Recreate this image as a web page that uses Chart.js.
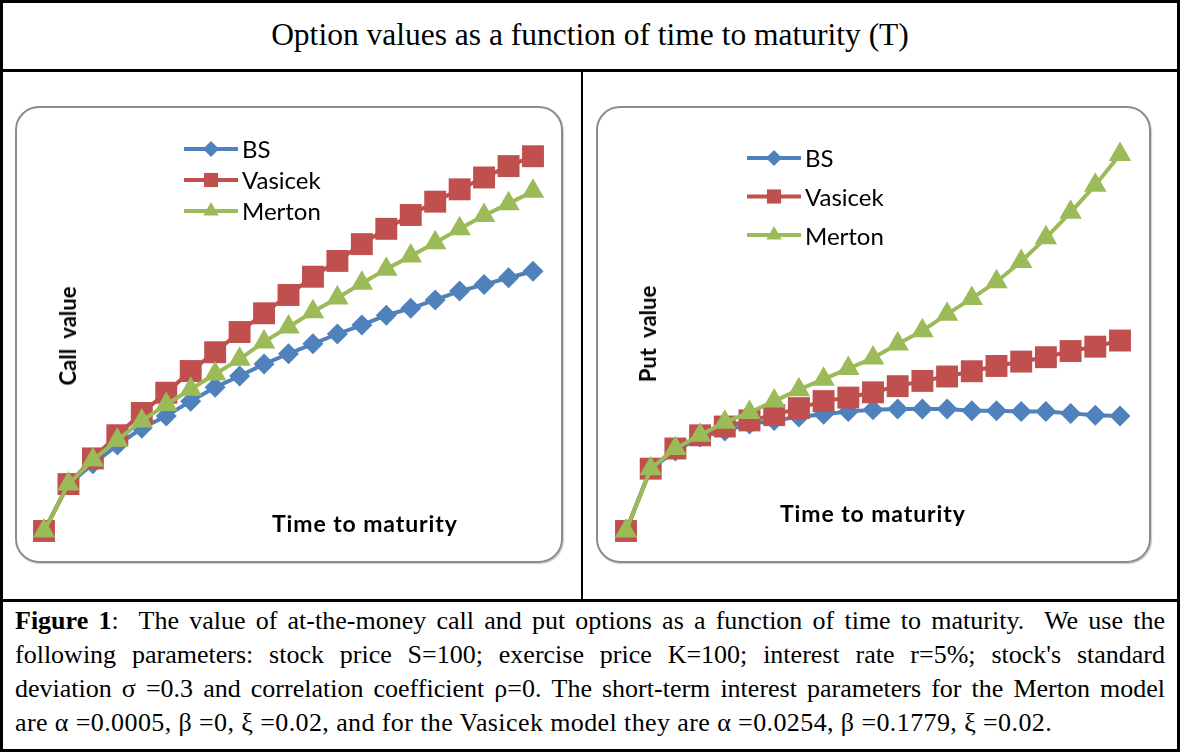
<!DOCTYPE html>
<html>
<head>
<meta charset="utf-8">
<script src="https://cdn.jsdelivr.net/npm/chart.js@4.4.0/dist/chart.umd.min.js"></script>
<style>
  body { margin: 0; background: #fff; }
  #page { position: relative; width: 1180px; height: 752px; overflow: hidden; font-family: "Liberation Serif", "Times New Roman", serif; color: #000; }
  .rule { position: absolute; background: #000; }
  .box { position: absolute; border: 2px solid #8c8c8c; border-radius: 24px; box-sizing: border-box; box-shadow: 1px 1px 1px rgba(0,0,0,0.2); }
  canvas { position: absolute; }
  .lab { position: absolute; font-family: Lato, "Open Sans", sans-serif; white-space: nowrap; }
  .leg { font-size: 24px; line-height: 24px; transform: translateY(-50%); }
  .axt { font-size: 22px; font-weight: bold; line-height: 22px; }
  .axh { font-size: 23px; letter-spacing: 0.9px; }
  #title { position: absolute; left: 0; top: 0; width: 1180px; height: 70px; line-height: 70px; text-align: center; font-size: 31.5px; }
  #caption { position: absolute; left: 15px; top: 604px; width: 1150px; font-size: 26px; line-height: 34px; }
  #caption div { text-align: justify; text-align-last: justify; white-space: nowrap; }
  #caption div.last { text-align-last: left; letter-spacing: 0.4px; }
</style>
</head>
<body>
<div id="page">
  <div class="rule" style="left:0;top:0;width:1180px;height:3px"></div>
  <div class="rule" style="left:0;top:749px;width:1180px;height:3px"></div>
  <div class="rule" style="left:0;top:0;width:3px;height:752px"></div>
  <div class="rule" style="left:1177px;top:0;width:3px;height:752px"></div>
  <div class="rule" style="left:0;top:69px;width:1180px;height:3px"></div>
  <div class="rule" style="left:0;top:599px;width:1180px;height:3px"></div>
  <div class="rule" style="left:581px;top:70px;width:2px;height:530px"></div>

  <div id="title">Option values as a function of time to maturity (T)</div>

  <div class="box" style="left:15px;top:106px;width:548px;height:457px"></div>
  <div class="box" style="left:596px;top:106px;width:555px;height:457px"></div>

  <canvas id="callChart" width="546" height="455" style="left:16px;top:107px"></canvas>
  <canvas id="putChart" width="553" height="455" style="left:597px;top:107px"></canvas>

  <div class="lab leg" style="left:242px;top:149px">BS</div>
  <div class="lab leg" style="left:242px;top:180px">Vasicek</div>
  <div class="lab leg" style="left:242px;top:211px">Merton</div>
  <div class="lab leg" style="left:805px;top:158px">BS</div>
  <div class="lab leg" style="left:805px;top:197px">Vasicek</div>
  <div class="lab leg" style="left:805px;top:236px">Merton</div>

  <div class="lab axt" style="left:68px;top:336px;transform:translate(-50%,-50%) rotate(-90deg)">Call&nbsp; value</div>
  <div class="lab axt" style="left:648px;top:334px;transform:translate(-50%,-50%) rotate(-90deg)">Put&nbsp; value</div>
  <div class="lab axt axh" style="left:272px;top:523px;transform:translateY(-50%)">Time to maturity</div>
  <div class="lab axt axh" style="left:780px;top:513px;transform:translateY(-50%)">Time to maturity</div>

  <div id="caption">
    <div><b>Figure 1</b>:&nbsp; The value of at-the-money call and put options as a function of time to maturity.&nbsp; We use the</div>
    <div>following parameters: stock price S=100; exercise price K=100; interest rate r=5%; stock's standard</div>
    <div>deviation σ =0.3 and correlation coefficient ρ=0. The short-term interest parameters for the Merton model</div>
    <div class="last">are α =0.0005, β =0, ξ =0.02, and for the Vasicek model they are α =0.0254, β =0.1779, ξ =0.02.</div>
  </div>
</div>

<script>
// time to maturity (21 points)
const maturities = ['0', '0.5', '1', '1.5', '2', '2.5', '3', '3.5', '4', '4.5', '5',
                    '5.5', '6', '6.5', '7', '7.5', '8', '8.5', '9', '9.5', '10'];

// call values
const callBS      = [0, 9.5, 13.6, 17.4, 20.8, 23.3, 26.3, 29.1, 31.4, 33.8, 35.9, 37.9, 39.9, 41.7, 43.7, 45.1, 46.8, 48.6, 49.9, 51.3, 52.6];
const callVasicek = [0, 9.5, 14.7, 19.4, 23.9, 28.0, 32.4, 36.2, 40.3, 44.1, 47.8, 51.5, 54.7, 58.1, 61.2, 64.0, 66.7, 69.2, 71.6, 73.9, 75.9];
const callMerton  = [0, 9.5, 14.4, 18.4, 22.3, 25.6, 28.7, 31.8, 34.8, 38.3, 41.3, 44.4, 47.2, 50.2, 53.0, 55.7, 58.4, 61.2, 63.9, 66.3, 68.8];

// put values
const putBS      = [0, 7.1, 9.1, 10.7, 11.4, 12.2, 12.6, 13.0, 13.3, 13.6, 13.8, 13.9, 13.9, 13.9, 13.7, 13.7, 13.6, 13.6, 13.4, 13.2, 13.1];
const putVasicek = [0, 7.1, 9.4, 10.9, 11.9, 12.6, 13.2, 14.0, 14.8, 15.2, 15.8, 16.5, 17.1, 17.6, 18.2, 18.8, 19.3, 19.8, 20.5, 21.0, 21.7];
const putMerton  = [0, 7.1, 9.4, 10.9, 12.4, 13.5, 14.8, 16.1, 17.3, 18.5, 19.7, 21.3, 22.8, 24.7, 26.5, 28.4, 30.7, 33.4, 36.3, 39.4, 42.9];

const seriesNames = ['BS', 'Vasicek', 'Merton'];

const BLUE = '#4F81BD';
const RED = '#C0504D';
const GREEN = '#9BBB59';

// draws the line+marker symbols of the legend (labels are html text)
const legendSymbols = {
    id: 'legendSymbols',
    afterDraw(chart, args, opts) {
        const ctx = chart.ctx;
        chart.data.datasets.forEach((ds, i) => {
            const y = opts.y0 + i * opts.gap;
            ctx.save();
            ctx.strokeStyle = ds.borderColor;
            ctx.lineWidth = 4;
            ctx.beginPath();
            ctx.moveTo(opts.x0, y);
            ctx.lineTo(opts.x0 + 54, y);
            ctx.stroke();
            ctx.fillStyle = ds.pointBackgroundColor;
            Chart.helpers.drawPoint(ctx, {
                pointStyle: ds.pointStyle,
                radius: ds.legendRadius,
                borderWidth: 0,
                rotation: 0
            }, opts.x0 + 27, y);
            ctx.restore();
        });
    }
};

function makeSeries(label, data, color, style, radius, legendRadius, order) {
    return {
        label: label,
        data: data,
        borderColor: color,
        backgroundColor: color,
        pointBackgroundColor: color,
        pointBorderWidth: 0,
        borderWidth: 4,
        pointStyle: style,
        pointRadius: radius,
        pointHoverRadius: radius,
        legendRadius: legendRadius,
        tension: 0,
        clip: false,
        order: order
    };
}

function makeChart(id, bs, vas, mer, ymax, padding, legendPos) {
    const ctx = document.getElementById(id);
    return new Chart(ctx, {
        type: 'line',
        data: {
            labels: maturities,
            datasets: [
                makeSeries(seriesNames[0], bs, BLUE, 'rectRot', 10.5, 8, 3),
                makeSeries(seriesNames[1], vas, RED, 'rect', 15.5, 10, 2),
                makeSeries(seriesNames[2], mer, GREEN, 'triangle', 13, 9, 1)
            ]
        },
        options: {
            responsive: false,
            animation: false,
            layout: { padding: padding },
            plugins: {
                legend: { display: false },
                tooltip: { enabled: false },
                legendSymbols: legendPos
            },
            scales: {
                x: { display: false, offset: false },
                y: { display: false, min: 0, max: ymax }
            }
        },
        plugins: [legendSymbols]
    });
}

makeChart('callChart', callBS, callVasicek, callMerton, 80,
    { left: 28, right: 29, top: 29, bottom: 31 },
    { x0: 168, y0: 42, gap: 31 });

makeChart('putChart', putBS, putVasicek, putMerton, 45,
    { left: 29, right: 30, top: 29, bottom: 31 },
    { x0: 150, y0: 51, gap: 38.5 });
</script>
</body>
</html>
